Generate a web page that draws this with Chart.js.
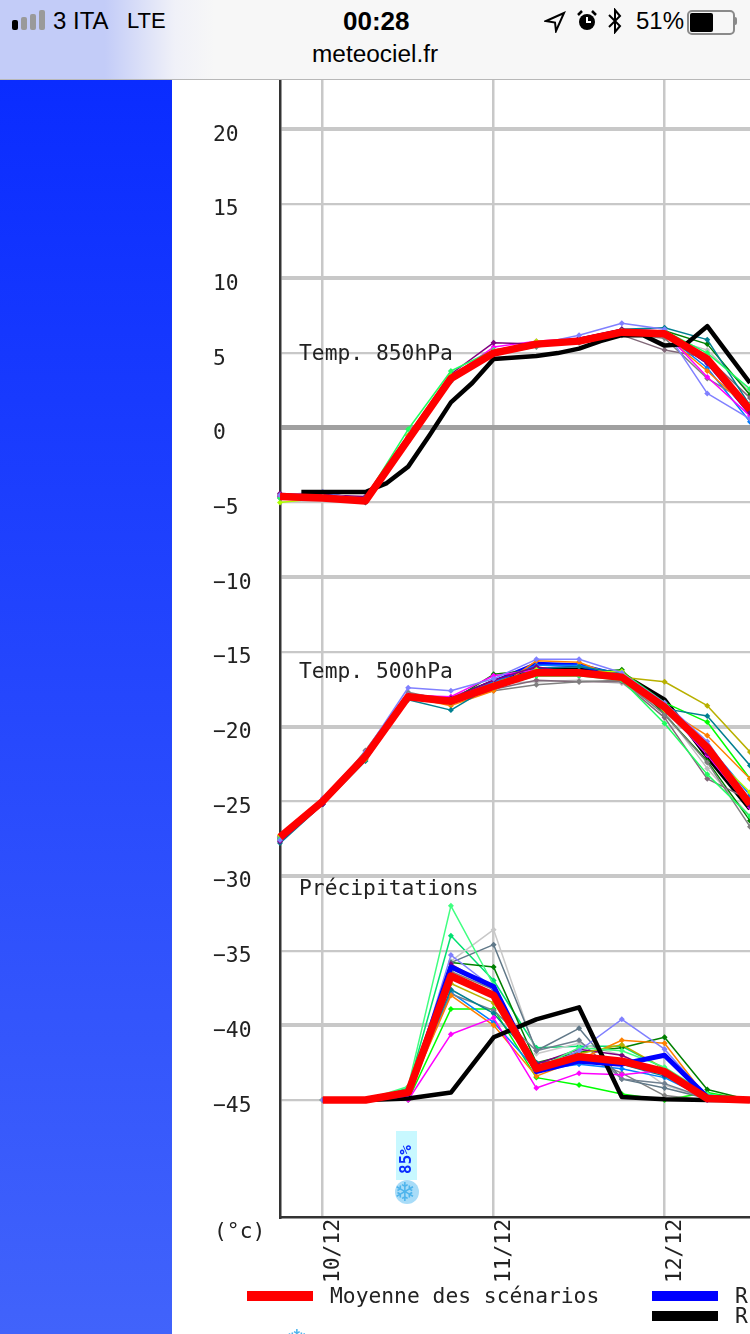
<!DOCTYPE html>
<html>
<head>
<meta charset="utf-8">
<title>meteociel.fr</title>
<script src="https://cdn.jsdelivr.net/npm/chart.js@4"></script>
<style>
  html, body { margin: 0; padding: 0; background: #fff; }
  #page { position: relative; width: 750px; height: 1334px; overflow: hidden; background: #fff; }
  #side { position: absolute; left: 0; top: 80px; width: 172px; height: 1254px; background: linear-gradient(#0a2cff, #4163fb); }
  #bar { position: absolute; left: 0; top: 0; width: 750px; height: 79px; border-bottom: 1px solid #b8b8b8;
    background: linear-gradient(90deg, #c3ccf8 0, #c3ccf8 105px, #f0f1f8 175px, #f7f7f7 215px); }
  #wrap { position: absolute; left: 172px; top: 80px; width: 578px; height: 1254px; }
  .st { position: absolute; font-family: "Liberation Sans", sans-serif; color: #000; white-space: nowrap; line-height: 1; }
  .mono { position: absolute; font-family: "DejaVu Sans Mono", monospace; font-size: 21.3px; color: #222; white-space: nowrap; line-height: 24px; }
  .sw { position: absolute; width: 66px; height: 10px; }
  .sig { position: absolute; width: 6px; border-radius: 2px; background: #9a9a9a; bottom: 49px; }
  .flake { position: absolute; font-family: "DejaVu Sans", sans-serif; color: #4fb4ec; line-height: 1; }
</style>
</head>
<body>
<div id="page">
  <div id="side"></div>
  <div id="wrap"><canvas id="chart" width="578" height="1254"></canvas></div>

  <div id="bar">
    <div class="sig" style="left:12px;height:10px;background:#000"></div>
    <div class="sig" style="left:21px;height:13px"></div>
    <div class="sig" style="left:30px;height:16px"></div>
    <div class="sig" style="left:39px;height:20px"></div>
    <div class="st" style="left:53px;top:9px;font-size:24px">3 ITA</div>
    <div class="st" style="left:127px;top:10px;font-size:22px">LTE</div>
    <div class="st" style="left:343px;top:8px;font-size:26px;font-weight:bold">00:28</div>
    <div class="st" style="left:312px;top:42px;font-size:24.4px">meteociel.fr</div>
    <svg style="position:absolute;left:544px;top:11px" width="22" height="22" viewBox="0 0 22 22">
      <path d="M20 2 L2 10 L11 11.5 L12 20 Z" fill="none" stroke="#000" stroke-width="2"/>
    </svg>
    <svg style="position:absolute;left:575px;top:9px" width="24" height="24" viewBox="0 0 24 24">
      <circle cx="12" cy="13" r="8" fill="#000"/>
      <path d="M12 8 V13 H16" fill="none" stroke="#fff" stroke-width="2"/>
      <path d="M3 6 L7 2 M21 6 L17 2" stroke="#000" stroke-width="2.5"/>
    </svg>
    <svg style="position:absolute;left:607px;top:8px" width="16" height="26" viewBox="0 0 16 26">
      <path d="M2 7 L13 18 L8 24 V2 L13 8 L2 19" fill="none" stroke="#000" stroke-width="2"/>
    </svg>
    <div class="st" style="left:636px;top:9px;font-size:24px">51%</div>
    <div style="position:absolute;left:687px;top:10px;width:44px;height:21px;border:2px solid #8a8a8a;border-radius:5px"></div>
    <div style="position:absolute;left:690px;top:13px;width:23px;height:19px;background:#000;border-radius:2px"></div>
    <div style="position:absolute;left:734px;top:17px;width:3px;height:8px;background:#8a8a8a;border-radius:0 2px 2px 0"></div>
  </div>

  <div class="mono" style="left:299px;top:341px">Temp. 850hPa</div>
  <div class="mono" style="left:299px;top:659px">Temp. 500hPa</div>
  <div class="mono" style="left:299px;top:876px">Précipitations</div>
  <div class="mono" style="left:214px;top:1219px">(°c)</div>

  <div style="position:absolute;left:396px;top:1131px;width:21px;height:49px;background:#c8f8ff"></div>
  <div style="position:absolute;left:382px;top:1149px;width:49px;height:21px;line-height:21px;text-align:center;font:bold 16px 'DejaVu Sans Mono',monospace;color:#0a2cff;transform:rotate(-90deg)">85%</div>
  <div style="position:absolute;left:395px;top:1180px;width:24px;height:24px;border-radius:12px;background:#a8dcf8"></div>
  <div class="flake" style="left:394px;top:1179px;font-size:26px">❄</div>

  <div class="sw" style="left:247px;top:1291px;background:#ff0000"></div>
  <div class="mono" style="left:330px;top:1284px">Moyenne des scénarios</div>
  <div class="sw" style="left:652px;top:1291px;background:#0000ff"></div>
  <div class="mono" style="left:735px;top:1284px">R</div>
  <div class="sw" style="left:652px;top:1311px;background:#000"></div>
  <div class="mono" style="left:735px;top:1304px">R</div>
  <div class="flake" style="left:286px;top:1326px;font-size:26px">❄</div>
</div>

<script>
// hours after 10/12 00h, one point every 6 hours
var hours = [-6, 0, 6, 12, 18, 24, 30, 36, 42, 48, 54, 60];
var hours3 = [-3, 0, 3, 6, 9, 12, 15, 18, 21, 24, 27, 30, 33, 36, 39, 42, 45, 48, 51, 54, 57, 60];

var xTicks = [0, 24, 48];
var xLabels = ["10/12", "11/12", "12/12"];
var yTicks = [20, 15, 10, 5, 0, -5, -10, -15, -20, -25, -30, -35, -40, -45];

var memberColors = ["#8080ff", "#20ff60", "#b0ff00", "#800080", "#ff00ff", "#008090", "#ff8000",
                    "#808080", "#806878", "#0080ff", "#008000", "#c0c0c0", "#b8b000", "#00ff00"];

// Temp. 850hPa
var t850Mean = [-4.6, -4.7, -4.9, -0.8, 3.3, 5.0, 5.6, 5.8, 6.4, 6.3, 4.6, 1.2];
var t850Blue = [-4.6, -4.5, -4.8, -0.7, 3.4, 5.1, 5.6, 5.9, 6.5, 6.4, 4.4, 1.0];
var t850Black = [-4.3, -4.3, -4.3, -4.3, -3.7, -2.6, -0.5, 1.7, 3.0, 4.6, 4.7, 4.8, 5.0, 5.3, 5.8, 6.2, 6.2, 5.5, 5.6, 6.8, 4.9, 3.0];
var t850Members = [
  [-4.5, -4.3, -4.9, -0.9, 3.2, 5.1, 5.6, 6.2, 7.0, 6.6, 2.3, 0.6],
  [-4.7, -4.6, -4.7, -0.1, 3.8, 5.2, 5.5, 5.9, 6.5, 6.5, 5.0, 2.6],
  [-5.0, -4.7, -4.8, -0.5, 3.5, 5.0, 5.8, 5.9, 6.4, 6.3, 4.5, 1.5],
  [-4.4, -4.5, -4.6, -0.5, 3.6, 5.7, 5.6, 6.0, 6.6, 6.2, 4.3, 1.0],
  [-4.6, -4.6, -4.7, -0.6, 3.4, 5.4, 5.8, 6.0, 6.5, 6.4, 3.4, 0.8],
  [-4.6, -4.6, -5.0, -0.8, 3.3, 5.0, 5.5, 5.9, 6.6, 6.7, 5.9, 1.5],
  [-4.5, -4.7, -4.8, -0.7, 3.4, 5.2, 5.6, 5.8, 6.4, 6.2, 3.8, 1.2],
  [-4.7, -4.6, -4.8, -0.9, 3.1, 4.9, 5.4, 5.8, 6.3, 6.0, 3.3, 1.6],
  [-4.6, -4.5, -4.7, -0.8, 3.2, 5.0, 5.5, 5.7, 6.2, 5.2, 4.7, 2.0],
  [-4.6, -4.6, -4.8, -0.9, 3.2, 5.0, 5.5, 5.8, 6.4, 6.3, 4.0, 0.4],
  [-4.5, -4.6, -4.7, -0.7, 3.4, 5.1, 5.5, 5.9, 6.5, 6.5, 5.6, 2.2],
  [-4.7, -4.7, -4.9, -0.8, 3.1, 4.9, 5.5, 5.7, 6.2, 6.1, 5.2, 2.4]
];

// Temp. 500hPa
var t500Mean = [-27.4, -25.0, -22.0, -18.0, -18.3, -17.3, -16.4, -16.4, -16.7, -18.7, -21.4, -25.2];
var t500Blue = [-27.5, -25.0, -22.1, -17.9, -18.2, -17.0, -15.8, -15.9, -16.6, -18.8, -21.6, -25.0];
var t500Black = [-27.5, -25.0, -22.0, -18.0, -18.2, -17.0, -16.2, -16.2, -16.5, -18.2, -22.0, -25.5];
var t500Members = [
  [-27.6, -24.8, -21.7, -17.4, -17.6, -16.8, -15.5, -15.5, -16.4, -18.4, -21.0, -25.0],
  [-27.5, -25.0, -22.1, -18.1, -18.4, -17.4, -16.6, -16.6, -16.9, -19.8, -23.2, -26.0],
  [-27.3, -25.0, -22.2, -18.0, -18.2, -17.2, -16.2, -16.4, -16.3, -18.9, -21.6, -24.4],
  [-27.7, -25.2, -22.0, -18.0, -18.1, -16.9, -16.0, -16.5, -16.6, -18.6, -21.8, -25.3],
  [-27.4, -24.9, -21.9, -17.9, -18.0, -16.6, -16.2, -16.6, -16.7, -18.7, -21.9, -25.4],
  [-27.8, -25.2, -22.3, -18.2, -18.9, -17.2, -16.1, -16.0, -16.4, -18.8, -19.3, -22.6],
  [-27.3, -25.0, -22.0, -18.0, -18.6, -17.6, -15.6, -15.7, -16.8, -18.8, -20.6, -23.5],
  [-27.6, -25.1, -21.6, -17.7, -18.3, -17.6, -17.2, -17.0, -16.9, -19.2, -22.4, -26.7],
  [-27.5, -25.0, -22.2, -17.8, -18.2, -17.5, -16.9, -17.0, -17.0, -19.4, -23.5, -24.9],
  [-27.4, -24.9, -22.0, -18.0, -18.2, -17.0, -15.9, -15.9, -16.5, -18.9, -21.2, -24.6],
  [-27.6, -25.1, -22.1, -18.1, -18.3, -16.5, -16.2, -16.4, -16.2, -19.2, -22.3, -26.3],
  [-27.5, -25.2, -22.3, -18.0, -18.0, -17.1, -17.0, -16.9, -17.1, -19.0, -22.8, -26.0],
  [-27.4, -25.1, -22.2, -18.1, -18.2, -17.0, -16.3, -16.3, -16.7, -17.0, -18.6, -21.7],
  [-27.5, -25.0, -22.0, -18.0, -18.3, -17.1, -16.6, -16.6, -16.3, -18.4, -19.7, -23.5]
];

// Précipitations, drawn on the same axis with -45 as baseline
var precipMean = [null, -45, -45, -44.5, -36.7, -38.0, -42.9, -42.1, -42.4, -43.1, -44.9, -45];
var precipBlue = [null, -45, -45, -44.6, -36.1, -37.4, -43.1, -42.4, -42.6, -42.0, -44.8, -45];
var precipBlack = [null, null, -45, -44.9, -44.5, -40.8, -39.6, -38.8, -44.8, -44.95, -45, -45];
var precipMembers = [
  [null, -45, -45, -44.7, -35.3, -37.5, -43.0, -41.7, -39.6, -41.6, -44.8, -45],
  [null, -45, -45, -44.1, -32.0, -37.3, -42.9, -41.5, -41.7, -42.8, -44.6, -45],
  [null, -45, -45, -44.6, -37.2, -38.5, -42.8, -41.9, -41.3, -42.9, -44.7, -45],
  [null, -45, -45, -44.6, -35.9, -37.5, -42.6, -41.6, -42.0, -43.3, -44.9, -45],
  [null, -45, -45, -45.0, -40.6, -39.5, -44.2, -43.2, -43.3, -43.0, -45.0, -45],
  [null, -45, -45, -44.4, -37.6, -39.2, -42.5, -42.3, -42.6, -43.4, -44.8, -45],
  [null, -45, -45, -44.6, -38.0, -40.0, -43.4, -42.3, -41.0, -41.2, -44.9, -45],
  [null, -45, -45, -44.5, -37.9, -39.0, -41.7, -41.0, -43.6, -43.9, -44.9, -45],
  [null, -45, -45, -44.5, -35.8, -34.6, -41.7, -40.2, -43.6, -44.2, -44.9, -45],
  [null, -45, -45, -44.6, -37.8, -39.8, -43.0, -42.6, -42.9, -43.5, -44.9, -45],
  [null, -45, -45, -44.5, -35.8, -36.1, -42.5, -41.8, -41.5, -40.8, -44.3, -45],
  [null, -45, -45, -44.4, -35.7, -33.6, -41.9, -41.2, -42.0, -44.0, -44.9, -45],
  [null, -45, -45, -44.6, -36.4, -37.6, -42.9, -42.0, -43.2, -44.7, -45.0, -45],
  [null, -45, -45, -45.0, -38.9, -38.9, -43.5, -44.0, -44.6, -45.0, -44.5, -45],
  [null, -45, -45, -44.2, -34.0, -37.0, -41.5, -41.4, -41.4, -42.9, -44.6, -45]
];
var precipMemberColors = ["#8080ff", "#40ff80", "#b8b000", "#800080", "#ff00ff", "#008090", "#ff8000",
                          "#708090", "#607888", "#0080ff", "#008000", "#c8c8c8", "#808080", "#00ff00", "#00e070"];

function points(xs, ys) {
  return xs.map(function (h, i) { return { x: h, y: ys[i] }; });
}

function thickLine(xs, ys, color, width) {
  return { data: points(xs, ys), borderColor: color, borderWidth: width, pointRadius: 0, clip: false };
}

function thinLine(ys, color) {
  return { data: points(hours, ys), borderColor: color, backgroundColor: color, borderWidth: 1.5,
           pointStyle: "rectRot", pointRadius: 3, pointBorderWidth: 0, clip: false };
}

// the scales must not reserve room for half a label outside the plot
function noPadding(scale) {
  scale.paddingTop = 0;
  scale.paddingBottom = 0;
  scale.paddingLeft = 0;
  scale.paddingRight = 0;
}

var datasets = [];
// the first datasets end up on top
datasets.push(thickLine(hours, t850Mean, "#ff0000", 7.5));
datasets.push(thickLine(hours, t500Mean, "#ff0000", 7.5));
datasets.push(thickLine(hours, precipMean, "#ff0000", 7.5));
datasets.push(thickLine(hours, precipBlue, "#0000ff", 5));
datasets.push(thickLine(hours3, t850Black, "#000000", 4.5));
datasets.push(thickLine(hours, precipBlack, "#000000", 4.5));
for (let i = 0; i < t850Members.length; i++) {
  datasets.push(thinLine(t850Members[i], memberColors[i]));
}
for (let i = 0; i < t500Members.length; i++) {
  datasets.push(thinLine(t500Members[i], memberColors[i]));
}
for (let i = 0; i < precipMembers.length; i++) {
  datasets.push(thinLine(precipMembers[i], precipMemberColors[i]));
}
datasets.push(thickLine(hours, t850Blue, "#0000ff", 4));
datasets.push(thickLine(hours, t500Blue, "#0000ff", 4));
datasets.push(thickLine(hours, t500Black, "#000000", 4.5));

new Chart(document.getElementById("chart"), {
  type: "line",
  data: { datasets: datasets },
  options: {
    responsive: false,
    animation: false,
    devicePixelRatio: 1,
    layout: { autoPadding: false, padding: { left: 41, top: 0, right: 0, bottom: 0 } },
    plugins: { legend: { display: false }, tooltip: { enabled: false } },
    elements: { line: { tension: 0, borderJoinStyle: "round", borderCapStyle: "butt" } },
    scales: {
      x: {
        type: "linear",
        min: -6,
        max: 60,
        afterBuildTicks: function (scale) {
          scale.ticks = xTicks.map(function (v) { return { value: v }; });
        },
        afterFit: function (scale) { scale.height = 117; noPadding(scale); },
        grid: { color: "#c8c8c8", lineWidth: 2.5, drawTicks: false },
        border: { color: "#333333", width: 2.5 },
        ticks: {
          color: "#222",
          font: { family: "'DejaVu Sans Mono', monospace", size: 21.3 },
          minRotation: 90,
          maxRotation: 90,
          autoSkip: false,
          padding: 2,
          labelOffset: 11,
          callback: function (value) { return xLabels[xTicks.indexOf(value)]; }
        }
      },
      y: {
        type: "linear",
        min: -52.83,
        max: 23.28,
        afterBuildTicks: function (scale) {
          scale.ticks = yTicks.map(function (v) { return { value: v }; });
        },
        afterFit: function (scale) { scale.width = 67; noPadding(scale); },
        grid: {
          drawTicks: false,
          color: function (ctx) { return ctx.tick.value === 0 ? "#a0a0a0" : "#c8c8c8"; },
          lineWidth: function (ctx) {
            if (ctx.tick.value === 0) return 5;
            return ctx.tick.value % 10 === 0 ? 4 : 2.2;
          }
        },
        border: { color: "#333333", width: 2.5 },
        ticks: {
          color: "#222",
          crossAlign: "far",
          labelOffset: 6,
          font: { family: "'DejaVu Sans Mono', monospace", size: 21.3 },
          autoSkip: false,
          callback: function (value) { return String(value).replace("-", "\u2212"); }
        }
      }
    }
  }
});
</script>
</body>
</html>
